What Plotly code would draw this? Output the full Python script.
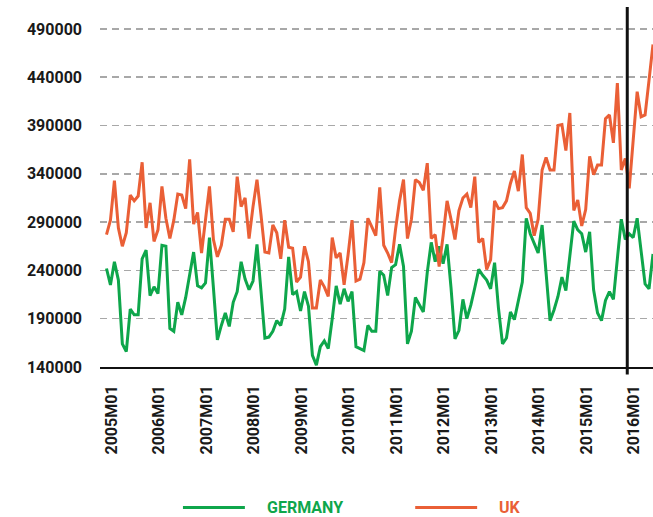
import plotly.graph_objects as go

# ---- data ----
months = [f"{y}M{m:02d}" for y in range(2005, 2017) for m in range(1, 13)][:139]

germany = [
    242000, 225000, 249000, 230000, 164000, 156000, 200000, 194000, 194000, 252000,
    261000, 214000, 223000, 216000, 266000, 265000, 180000, 177000, 207000, 194000,
    212000, 235000, 259000, 224000, 222000, 227000, 274000, 222000, 168000, 183000,
    196000, 182000, 207000, 218000, 249000, 231000, 220000, 229000, 267000, 219000,
    170000, 171000, 177000, 188000, 183000, 200000, 254000, 215000, 218000, 198000,
    218000, 203000, 152000, 142000, 161000, 167000, 159000, 190000, 224000, 205000,
    221000, 208000, 218000, 161000, 159000, 157000, 183000, 177000, 177000, 239000,
    235000, 214000, 243000, 246000, 267000, 244000, 164000, 177000, 212000, 204000,
    197000, 238000, 269000, 249000, 265000, 247000, 267000, 222000, 169000, 178000,
    210000, 190000, 204000, 222000, 241000, 235000, 230000, 221000, 248000, 200000,
    164000, 170000, 197000, 189000, 208000, 228000, 294000, 278000, 268000, 258000,
    287000, 240000, 188000, 199000, 213000, 233000, 219000, 255000, 291000, 282000,
    278000, 259000, 280000, 220000, 196000, 188000, 209000, 218000, 210000, 252000,
    293000, 272000, 278000, 274000, 294000, 260000, 226000, 221000, 257000,
]

uk = [
    277000, 292000, 333000, 284000, 265000, 279000, 318000, 312000, 317000, 352000,
    284000, 310000, 270000, 282000, 327000, 294000, 273000, 292000, 319000, 318000,
    304000, 355000, 288000, 300000, 258000, 292000, 327000, 272000, 254000, 266000,
    293000, 293000, 280000, 337000, 306000, 315000, 273000, 306000, 334000, 298000,
    259000, 258000, 287000, 279000, 252000, 292000, 264000, 263000, 228000, 233000,
    265000, 249000, 201000, 201000, 230000, 223000, 213000, 274000, 253000, 258000,
    225000, 256000, 292000, 229000, 231000, 248000, 294000, 285000, 276000, 326000,
    266000, 258000, 248000, 283000, 312000, 334000, 273000, 293000, 334000, 331000,
    323000, 351000, 273000, 277000, 244000, 276000, 312000, 293000, 272000, 302000,
    315000, 319000, 305000, 337000, 269000, 273000, 241000, 251000, 312000, 304000,
    305000, 312000, 330000, 343000, 322000, 360000, 305000, 299000, 276000, 293000,
    344000, 357000, 344000, 344000, 390000, 391000, 364000, 403000, 302000, 313000,
    286000, 303000, 358000, 339000, 349000, 349000, 397000, 401000, 372000, 434000,
    344000, 356000, 325000, 375000, 425000, 399000, 401000, 437000, 474000,
]

x_ticks = [m for m in months if m.endswith("M01")]
y_ticks = [140000, 190000, 240000, 290000, 340000, 390000, 440000, 490000]
marker_month = "2016M01"

series_names = ["GERMANY", "UK"]
GREEN = "#0ea64b"
ORANGE = "#ea5f36"

idx = list(range(len(months)))

fig = go.Figure()
fig.add_trace(go.Scatter(x=idx, y=germany, mode="lines", name=series_names[0],
                         line=dict(color=GREEN, width=3), hoverinfo="skip"))
fig.add_trace(go.Scatter(x=idx, y=uk, mode="lines", name=series_names[1],
                         line=dict(color=ORANGE, width=3), hoverinfo="skip"))

# vertical marker at the start of 2016
mx = months.index(marker_month) - 0.5
fig.add_shape(type="line", xref="x", yref="paper", x0=mx, x1=mx, y0=-0.021, y1=1.0,
              line=dict(color="#111111", width=3))

# manual legend
leg_y = -0.39
fig.add_shape(type="line", xref="paper", yref="paper", x0=0.150, x1=0.262, y0=leg_y, y1=leg_y,
              line=dict(color=GREEN, width=3))
fig.add_shape(type="line", xref="paper", yref="paper", x0=0.570, x1=0.682, y0=leg_y, y1=leg_y,
              line=dict(color=ORANGE, width=3))
fig.add_annotation(xref="paper", yref="paper", x=0.298, y=leg_y, text=series_names[0],
                   showarrow=False, xanchor="left", yanchor="middle",
                   font=dict(family="Roboto", size=16, color=GREEN, weight="bold"))
fig.add_annotation(xref="paper", yref="paper", x=0.718, y=leg_y, text=series_names[1],
                   showarrow=False, xanchor="left", yanchor="middle",
                   font=dict(family="Roboto", size=16, color=ORANGE, weight="bold"))

fig.update_layout(
    width=653, height=517,
    margin=dict(l=100, r=0, t=7, b=150),
    paper_bgcolor="white", plot_bgcolor="white",
    showlegend=False,
    font=dict(family="Roboto", size=16, color="#1a1a1a"),
)
fig.update_xaxes(
    range=[-1.64, 138.0],
    tickmode="array",
    tickvals=[months.index(t) for t in x_ticks],
    ticktext=x_ticks,
    tickangle=-90,
    tickfont=dict(family="Roboto", size=16, color="#1a1a1a", weight="bold"),
    showgrid=False, zeroline=False,
    showline=True, linecolor="#111111", linewidth=2,
    ticks="", ticklabelstandoff=10, ticklabelshift=5,
)
fig.update_yaxes(
    range=[140000, 512700],
    tickmode="array", tickvals=y_ticks,
    tickformat="d",
    tickfont=dict(family="Roboto", size=16, color="#1a1a1a", weight="bold"),
    showgrid=True, gridcolor="#a8a8a8", gridwidth=1.5, griddash="7px,5px",
    zeroline=False, showline=False, ticks="", ticklabelstandoff=17,
)

fig.write_html(
    "out.html",
    config={"displayModeBar": False, "staticPlot": True},
    post_script="document.body.style.margin='0';document.body.style.overflow='hidden';",
)
